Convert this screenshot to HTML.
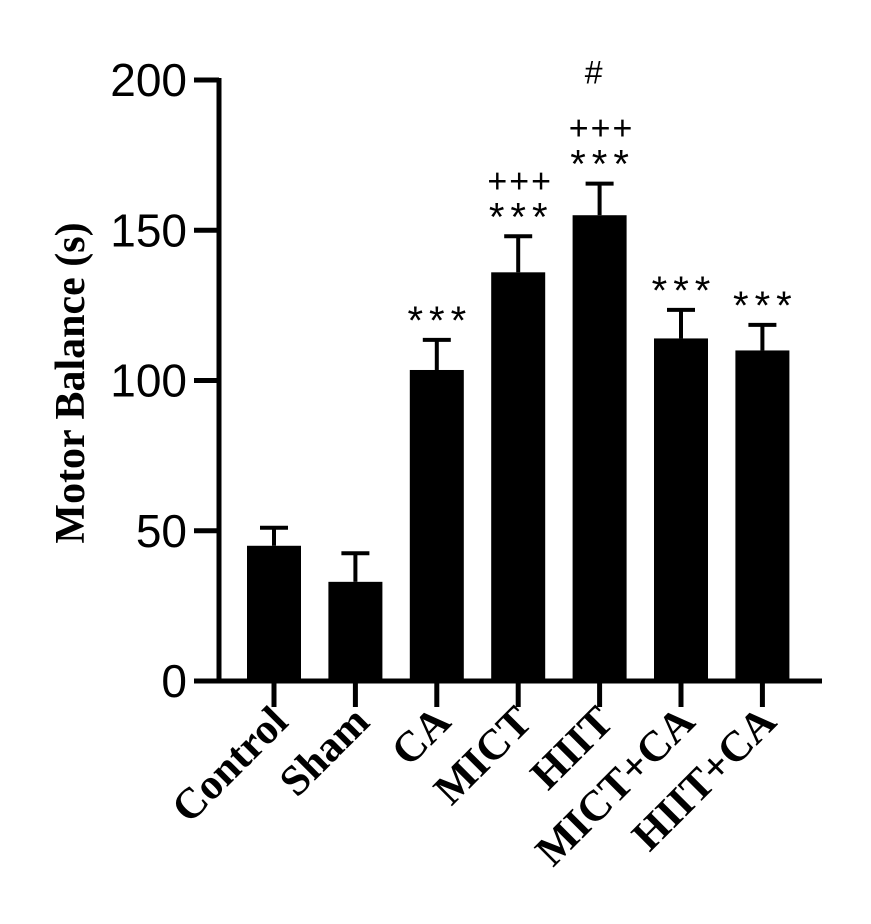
<!DOCTYPE html>
<html><head><meta charset="utf-8"><style>body{margin:0;background:#fff}svg{display:block}</style></head>
<body>
<svg id="chart" width="871" height="924" xmlns="http://www.w3.org/2000/svg">
</svg>
<script>
const categories = ["Control","Sham","CA","MICT","HIIT","MICT+CA","HIIT+CA"];
const means = [45, 33, 103.5, 136, 155, 114, 110];
const errors = [6, 9.5, 10, 12, 10.5, 9.5, 8.5];
const sigStars = ["", "", "***", "***", "***", "***", "***"];
const sigPlus = ["", "", "", "+++", "+++", "", ""];
const sigHash = ["", "", "", "", "#", "", ""];
const yTicks = [0, 50, 100, 150, 200];

const NS = "http://www.w3.org/2000/svg";
const svg = document.getElementById("chart");
const y0 = 681, yTop = 80, vmax = 200;
const yScale = v => y0 - (v / vmax) * (y0 - yTop);
const xScale = i => 274 + i * 81.4;
const barW = 54;
function mk(tag, attrs, parent) {
  const e = document.createElementNS(NS, tag);
  for (const k in attrs) e.setAttribute(k, attrs[k]);
  (parent || svg).appendChild(e);
  return e;
}
categories.forEach((c, i) => {
  const cx = xScale(i);
  const top = yScale(means[i]);
  const ey = yScale(means[i] + errors[i]);
  const eb = mk("line", {x1: cx, x2: cx, y1: top, y2: ey, stroke: "#000", "stroke-width": 4});
  
  
  const cap = mk("line", {x1: cx - 14, x2: cx + 14, y1: ey, y2: ey, stroke: "#000", "stroke-width": 4});
  
  
  const r = mk("rect", {x: cx - barW / 2, y: top, width: barW, height: y0 - top, fill: "#000"});
  
  
  if (sigStars[i]) {
    const t = mk("text", {x: cx + 3, y: ey - 6, "text-anchor": "middle", "font-family": "Liberation Sans, sans-serif", "font-size": 40, "letter-spacing": 6});
    t.textContent = sigStars[i];
    
    
  }
  if (sigPlus[i]) {
    const t = mk("text", {x: cx + 2, y: ey - 44, "text-anchor": "middle", "font-family": "Liberation Sans, sans-serif", "font-size": 34, "letter-spacing": 2});
    t.textContent = sigPlus[i];
    
    
  }
  if (sigHash[i]) {
    const t = mk("text", {x: cx - 6, y: ey - 100, "text-anchor": "middle", "font-family": "Liberation Sans, sans-serif", "font-size": 32});
    t.textContent = sigHash[i];
    
    
  }
  const tk = mk("line", {x1: cx, x2: cx, y1: y0, y2: 707, stroke: "#000", "stroke-width": 5});
  
  
  const lbl = mk("text", {x: 0, y: 0, "text-anchor": "end", "font-family": "Liberation Serif, serif", "font-weight": "bold", "font-size": 43, transform: `translate(${cx + 16},${724}) rotate(-45)`});
  lbl.textContent = c;
  
  
});
const ya = mk("line", {x1: 219, x2: 219, y1: yTop - 2, y2: y0 + 2.5, stroke: "#000", "stroke-width": 5});


const xa = mk("line", {x1: 194, x2: 822, y1: y0, y2: y0, stroke: "#000", "stroke-width": 5});


yTicks.forEach(v => {
  const y = yScale(v);
  const t = mk("line", {x1: 194, x2: 219, y1: y, y2: y, stroke: "#000", "stroke-width": 5});
  
  
  const l = mk("text", {x: 187, y: y + 16, "text-anchor": "end", "font-family": "Liberation Sans, sans-serif", "font-size": 46});
  l.textContent = v;
  
  
});
const yt = mk("text", {x: 0, y: 0, "text-anchor": "middle", "font-family": "Liberation Serif, serif", "font-weight": "bold", "font-size": 42, transform: "translate(84,383) rotate(-90)"});
yt.textContent = "Motor Balance (s)";


</script>
</body></html>
